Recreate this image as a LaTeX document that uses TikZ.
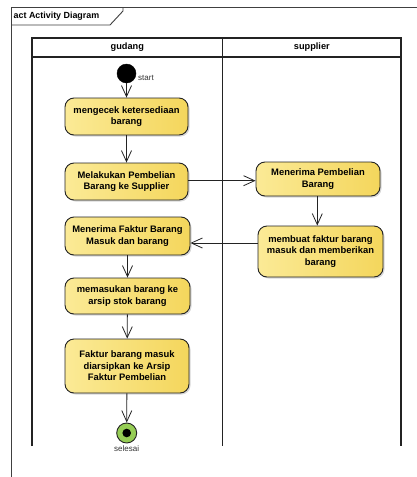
\documentclass[tikz,border=0pt]{standalone}
\usepackage{fontspec}
\setmainfont{Liberation Sans}
\usetikzlibrary{arrows.meta,shadows}
\definecolor{actfill}{RGB}{244,214,92}
\definecolor{actlight}{RGB}{251,234,150}
\definecolor{endgreen}{RGB}{150,205,85}
\definecolor{linec}{RGB}{35,35,35}
\begin{document}
\begin{tikzpicture}[x=1pt,y=-1pt,
  act/.style={draw=linec, line width=0.9pt, rounded corners=9pt,
    left color=actlight, right color=actfill,
    drop shadow={shadow xshift=1.5pt, shadow yshift=-1.5pt, fill=black!25, opacity=0.6},
    align=center, inner sep=0pt,
    font=\fontsize{9.4}{11.6}\selectfont\bfseries},
  flow/.style={draw=linec, line width=0.8pt, -{Straight Barb[length=11pt,width=10pt,line width=0.8pt]}},
  lane/.style={draw=linec, line width=1.1pt},
  frame/.style={draw=black!75, line width=0.9pt},
  lbl/.style={font=\fontsize{8}{9}\selectfont, text=black!80, inner sep=0pt}
]
\useasboundingbox (0,0) rectangle (417,477);
\fill[white] (0,0) rectangle (417,477);
\begin{scope}
\clip (0,0) rectangle (417,477);
% outer frame
\draw[frame] (11.5,490) -- (11.5,7.5) -- (430,7.5);
\draw[frame] (11.5,25) -- (110,25) -- (123,11) -- (123,7.5);
\node[anchor=west, font=\fontsize{8.9}{10}\selectfont\bfseries, inner sep=0pt] (title) at (13.5,16.5) {act Activity Diagram};
% swimlanes
\draw[lane] (32,446) -- (32,38) -- (401,38) -- (401,446);
\draw[lane] (32,57) -- (401,57);
\draw[lane] (222.7,38) -- (222.7,446);
\node[font=\fontsize{9.2}{10}\selectfont\bfseries] (lg) at (127.3,47.5) {gudang};
\node[font=\fontsize{9.2}{10}\selectfont\bfseries] (ls) at (311.8,47.5) {supplier};
\end{scope}
% start / end
\node[circle, fill=black, draw=black, minimum size=19pt, inner sep=0pt] (start) at (126.5,73.5) {};
\node[lbl, anchor=west] (startl) at (138,77.5) {start};
\node[circle, fill=endgreen, draw=linec, line width=0.9pt, minimum size=20pt, inner sep=0pt] (end) at (126.7,433) {};
\fill[black] (end.center) circle (4.3pt);
\node[lbl] (endl) at (126.7,448.5) {selesai};
% actions
\node[act, minimum width=123pt, minimum height=37pt] (a1) at (126.5,116.5) {mengecek ketersediaan\\barang};
\node[act, minimum width=123pt, minimum height=37pt] (a2) at (126.5,181.5) {Melakukan Pembelian\\Barang ke Supplier};
\node[act, minimum width=124pt, minimum height=34pt] (a3) at (318,179) {Menerima Pembelian\\Barang};
\node[act, minimum width=125pt, minimum height=51pt] (a4) at (320.5,251.5) {membuat faktur barang\\masuk dan memberikan\\barang};
\node[act, minimum width=125pt, minimum height=38pt] (a5) at (127.5,236) {Menerima Faktur Barang\\Masuk dan barang};
\node[act, minimum width=125pt, minimum height=36pt] (a6) at (127.5,296) {memasukan barang ke\\arsip stok barang};
\node[act, minimum width=124pt, minimum height=54pt] (a7) at (127,366) {Faktur barang masuk\\diarsipkan ke Arsip\\Faktur Pembelian};
% flows
\draw[flow] (start) -- (a1);
\draw[flow] (a1) -- (a2);
\draw[flow] (a2.east |- 0,180.7) -- (a3.west |- 0,180.7);
\draw[flow] (a3.south -| 317.3,0) -- (a4.north -| 317.3,0);
\draw[flow] (a4.west |- 0,243) -- (a5.east |- 0,243);
\draw[flow] (a5) -- (a6);
\draw[flow] (a6) -- (a7);
\draw[flow] (a7) -- (end);
\end{tikzpicture}
\end{document}
